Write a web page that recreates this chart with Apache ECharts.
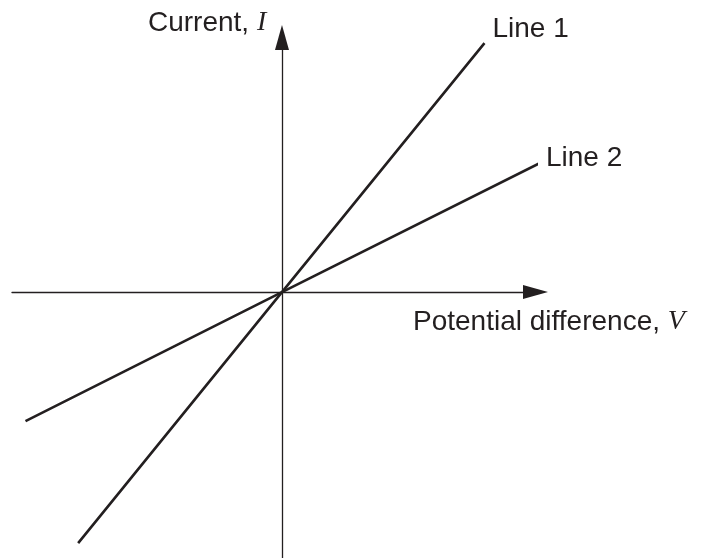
<!DOCTYPE html>
<html>
<head>
<meta charset="utf-8">
<script src="https://cdn.jsdelivr.net/npm/echarts@6/dist/echarts.min.js"></script>
<style>
html, body { margin: 0; padding: 0; background: #ffffff; }
#chart { width: 708px; height: 558px; }
</style>
</head>
<body>
<div id="chart"></div>
<script>
// data (arbitrary units, origin at 0,0)
const line1V = [-7.55, 0, 7.5];
const line1I = [-9.3, 0, 9.22];
const line2V = [-9.5, 0, 9.55];
const line2I = [-4.78, 0, 4.78];
const seriesNames = ['Line 1', 'Line 2'];
const xTitle = ['Potential difference, ', 'V'];
const yTitle = ['Current, ', 'I'];

const ink = '#231f20';
const sans = '"Liberation Sans", Arial, sans-serif';
const serif = '"Liberation Serif", "Times New Roman", serif';
const fontSize = 28;

function pairs(xs, ys) {
    return xs.map(function (x, i) { return [x, ys[i]]; });
}

// arrow head is centred on the axis end, so the grid stops half an arrow short
function axisBase(min, max) {
    return {
        type: 'value',
        min: min,
        max: max,
        splitLine: { show: false },
        axisTick: { show: false },
        axisLabel: { show: false },
        axisLine: {
            onZero: true,
            symbol: ['none', 'triangle'],
            symbolSize: [14, 25],
            lineStyle: { color: ink, width: 1.3 }
        }
    };
}

function lineSeries(name, data, dy) {
    return {
        name: name,
        type: 'line',
        data: data,
        symbol: 'none',
        lineStyle: { color: ink, width: 2.6 },
        endLabel: {
            show: true,
            formatter: name,
            color: ink,
            fontFamily: sans,
            fontSize: fontSize,
            offset: [0, dy]
        }
    };
}

const richTitle = {
    a: { fontFamily: sans, fontSize: fontSize, fill: ink, color: ink },
    b: { fontFamily: serif, fontStyle: 'italic', fontSize: fontSize, fill: ink, color: ink }
};

const chart = echarts.init(document.getElementById('chart'));
chart.setOption({
    animation: false,
    backgroundColor: '#ffffff',
    grid: { left: 12, right: 172.5, top: 37.5, bottom: 0 },
    xAxis: axisBase(-10, 9.39),
    yAxis: axisBase(-9.85, 9.43),
    series: [
        lineSeries(seriesNames[0], pairs(line1V, line1I), -14),
        lineSeries(seriesNames[1], pairs(line2V, line2I), -6)
    ],
    graphic: [
        {
            type: 'text',
            x: 148,
            y: 23,
            style: {
                text: '{a|' + yTitle[0] + '}{b|' + yTitle[1] + '}',
                rich: richTitle,
                align: 'left',
                verticalAlign: 'middle'
            }
        },
        {
            type: 'text',
            x: 413,
            y: 322,
            style: {
                text: '{a|' + xTitle[0] + '}{b|' + xTitle[1] + '}',
                rich: richTitle,
                align: 'left',
                verticalAlign: 'middle'
            }
        }
    ]
});
</script>
</body>
</html>
